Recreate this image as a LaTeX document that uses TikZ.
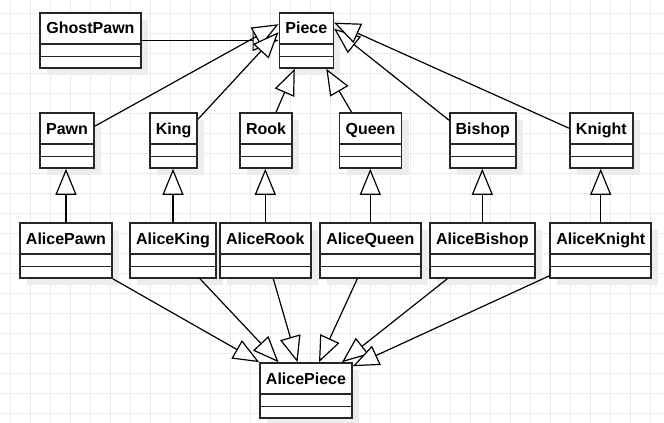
\documentclass[tikz,border=0pt]{standalone}
\usepackage{fontspec}
\setmainfont{Liberation Sans}
\usetikzlibrary{arrows.meta,shadows}

\tikzset{
  gridline/.style={black!8, line width=0.8pt},
  umlclass/.style={draw=black!85, line width=1.6pt, fill=white,
    inner xsep=0pt, inner ysep=0pt, minimum height=55pt,
    text height=21pt, text depth=34pt,
    font=\bfseries\fontsize{16}{19}\selectfont,
    drop shadow={shadow xshift=7pt, shadow yshift=-7pt, opacity=1,
      fill=black!7, path picture={}},
    path picture={
      \draw[black!85, line width=1.6pt]
        ([yshift=-31pt]path picture bounding box.north west) --
        ([yshift=-31pt]path picture bounding box.north east);
      \draw[black!85, line width=1.6pt]
        ([yshift=-43.5pt]path picture bounding box.north west) --
        ([yshift=-43.5pt]path picture bounding box.north east);
    }},
  inherit/.style={-{Triangle[fill=white,length=26pt,width=21pt]},
    line width=1.2pt, line join=miter}
}

\begin{document}
\begin{tikzpicture}[x=1pt,y=1pt]
\fill[white] (0,0) rectangle (664,-423);
\useasboundingbox (0,0) rectangle (664,-423);
% background grid
\foreach \gx in {10.5,30.5,...,650.5} \draw[gridline] (\gx,0) -- (\gx,-423);
\foreach \gy in {13,33,...,413} \draw[gridline] (0,-\gy) -- (664,-\gy);

% classes
\node[umlclass,minimum width=101pt] (GhostPawn) at (90.5,-40.5) {GhostPawn};
\node[umlclass,minimum width=54pt] (Piece) at (306.3,-40.5) {Piece};

\node[umlclass,minimum width=54pt] (Pawn) at (67,-140.5) {Pawn};
\node[umlclass,minimum width=47pt] (King) at (173.7,-140.5) {King};
\node[umlclass,minimum width=52pt] (Rook) at (266,-140.5) {Rook};
\node[umlclass,minimum width=62pt] (Queen) at (370.5,-140.5) {Queen};
\node[umlclass,minimum width=66pt] (Bishop) at (482.8,-140.5) {Bishop};
\node[umlclass,minimum width=63pt] (Knight) at (601.3,-140.5) {Knight};

\node[umlclass,minimum width=92pt] (AlicePawn) at (66,-250.5) {AlicePawn};
\node[umlclass,minimum width=86pt] (AliceKing) at (173,-250.5) {AliceKing};
\node[umlclass,minimum width=91pt] (AliceRook) at (265.3,-250.5) {AliceRook};
\node[umlclass,minimum width=101pt] (AliceQueen) at (370.3,-250.5) {AliceQueen};
\node[umlclass,minimum width=105pt] (AliceBishop) at (482.3,-250.5) {AliceBishop};
\node[umlclass,minimum width=101pt] (AliceKnight) at (600.7,-250.5) {AliceKnight};

\node[umlclass,minimum width=92pt] (AlicePiece) at (306,-390.5) {AlicePiece};

% generalisations to Piece
\draw[inherit] (GhostPawn) -- (Piece);
\draw[inherit] ([yshift=-14pt]Pawn.north east) -- ([yshift=-12pt]Piece.north west);
\draw[inherit] ([yshift=-7pt]King.north east) -- ([yshift=-20pt]Piece.north west);
\draw[inherit] ([xshift=10pt]Rook.north) -- ([xshift=-11.5pt]Piece.south);
\draw[inherit] ([xshift=-19pt]Queen.north) -- ([xshift=20pt]Piece.south);
\draw[inherit] ([yshift=-8pt]Bishop.north west) -- ([yshift=-16.5pt]Piece.north east);
\draw[inherit] ([yshift=-16pt]Knight.north west) -- ([yshift=-10.5pt]Piece.north east);

% Alice pieces to their pieces
\draw[inherit] (AlicePawn.north) -- (AlicePawn.north |- Pawn.south);
\draw[inherit] (AliceKing.north) -- (AliceKing.north |- King.south);
\draw[inherit] (AliceRook.north) -- (AliceRook.north |- Rook.south);
\draw[inherit] (AliceQueen.north) -- (AliceQueen.north |- Queen.south);
\draw[inherit] (AliceBishop.north) -- (AliceBishop.north |- Bishop.south);
\draw[inherit] (AliceKnight.north) -- (AliceKnight.north |- Knight.south);

% generalisations to AlicePiece
\draw[inherit] (AlicePawn.south east) -- (AlicePiece.north west);
\draw[inherit] ([xshift=27pt]AliceKing.south) -- ([xshift=-27.5pt]AlicePiece.north);
\draw[inherit] ([xshift=8pt]AliceRook.south) -- ([xshift=-8.5pt]AlicePiece.north);
\draw[inherit] ([xshift=-13pt]AliceQueen.south) -- ([xshift=13pt]AlicePiece.north);
\draw[inherit] ([xshift=-35pt]AliceBishop.south) -- ([xshift=36pt]AlicePiece.north);
\draw[inherit] ([yshift=3pt]AliceKnight.south west) -- ([yshift=-4pt]AlicePiece.north east);
\end{tikzpicture}
\end{document}
